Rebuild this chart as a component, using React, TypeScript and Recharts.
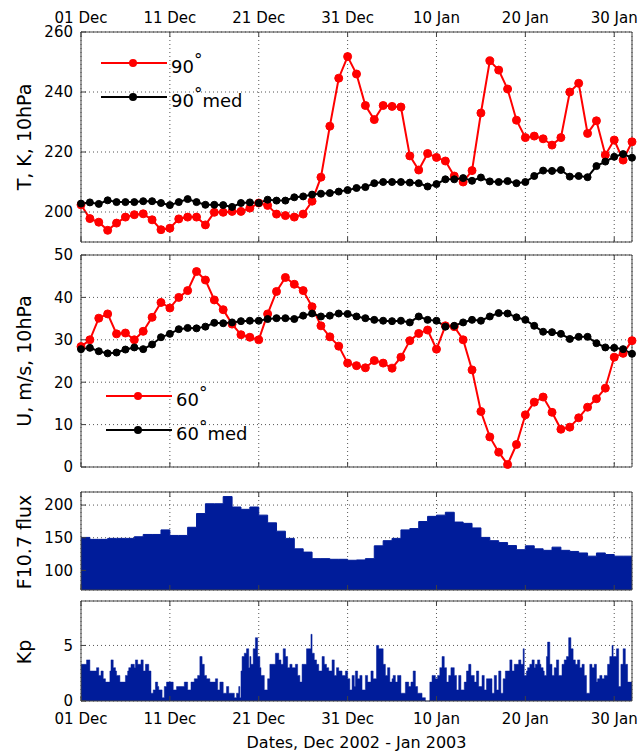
import React from "react";
import { ComposedChart, Line, Area, XAxis, YAxis, CartesianGrid, Legend } from "recharts";

// x axis: days since 01 Dec 2002
const dateTicks = [0, 10, 20, 30, 40, 50, 60];
const dateLabels = ["01 Dec", "11 Dec", "21 Dec", "31 Dec", "10 Jan", "20 Jan", "30 Jan"];
const dayDomain = [0, 62];

// T at 10 hPa, 90N and its median (daily)
const t90 = [
  202.4, 197.8, 196.6, 193.9, 196.3, 198.3, 199.1, 199.4, 197.4, 194.1,
  194.6, 197.7, 198.3, 198.3, 195.7, 199.9, 199.9, 200.2, 200.2, 201.3,
  203, 202.2, 199.3, 198.8, 198.3, 199.3, 203.6, 211.6, 228.6, 244.6,
  251.8, 246, 235.5, 230.8, 235.5, 235.2, 235, 218.7, 214, 219.5,
  218.2, 217, 212, 210, 213.8, 233, 250.4, 247.3, 241, 230.6,
  224.8, 225.3, 224.4, 222.3, 224.8, 240, 242.9, 226.2, 230.4, 219,
  224, 217.3, 223.4,
];
const t90med = [
  202.8, 203.2, 202.7, 203.9, 203.3, 203.3, 203.3, 203.6, 203.6, 203,
  202.3, 203.3, 204.3, 203.3, 202.4, 202.4, 202.3, 201.7, 203, 203.2,
  203, 204.1, 203.8, 203.8, 204.9, 205.2, 205.8, 206.1, 206.3, 206.8,
  207.3, 208, 208.3, 209.6, 210, 210, 210, 209.8, 209.6, 208.5,
  209.3, 210.9, 210.9, 211.3, 210.4, 211.5, 210.2, 210, 210.3, 209.6,
  210, 212, 213.8, 213.7, 214, 211.8, 212, 211.6, 215.3, 216.8,
  218.4, 219.3, 218.1,
];

// zonal wind at 10 hPa, 60N and its median (daily)
const u60 = [
  28.4, 30, 35.1, 36.1, 31.4, 31.6, 30, 32, 35.3, 38.8,
  37.5, 40, 41.6, 46.1, 44.1, 39.4, 37.1, 33.7, 31.2, 30.6,
  30, 36.1, 41.4, 44.7, 43.1, 41.6, 37.8, 33.3, 30.7, 28.5,
  24.5, 23.9, 23.4, 25.1, 24.5, 23.3, 25.9, 29.8, 31.5, 32.3,
  27.8, 33.3, 33.1, 30, 22.9, 13.1, 7.1, 3.5, 0.6, 5.3,
  12.3, 15.3, 16.5, 12.9, 8.9, 9.4, 11.6, 14.1, 16.1, 18.6,
  25.9, 26.8, 29.8,
];
const u60med = [
  27.8, 28.1, 27.3, 26.8, 27, 27.7, 28.2, 27.8, 28.9, 30.6,
  31.4, 32.5, 32.8, 32.7, 33.1, 34, 33.9, 34.1, 34.4, 34.5,
  34.5, 34.9, 35.1, 35.1, 34.9, 35.7, 36.2, 35.5, 35.7, 36.2,
  36.1, 35.5, 35.1, 34.7, 34.5, 34.4, 34.5, 34.1, 35.5, 34.7,
  34.5, 33.1, 33.3, 34.1, 34.7, 34.5, 35.5, 36.3, 36.2, 35.3,
  34.7, 33.3, 31.9, 31.8, 31.4, 30.2, 30.7, 30.7, 29.2, 28.2,
  28.1, 27.8, 26.7,
];

// solar F10.7 flux, one value per day
const f107 = [
  150.5, 147.5, 147.5, 149, 149, 149, 151.5, 155, 155, 162,
  153.5, 153.5, 166, 187, 202, 202, 213, 197, 193.5, 197,
  184.6, 172.8, 160, 149, 133, 128, 118, 118, 117, 117,
  115.5, 116, 118, 137.6, 145.5, 149, 162, 164, 174.8, 182.7,
  184.6, 189, 174, 172, 165, 150.5, 145.5, 142.6, 138, 131.7,
  137.6, 133, 130.7, 135.6, 130.7, 129, 126.7, 121.8, 126.7, 124.3,
  121.8, 121.8,
];

// Kp, eight 3-hour values per day
const kp = [
  3.3, 3.3, 3.3, 3.3, 3.3, 3.7, 3.7, 3.7,
  2.7, 2.7, 2.7, 2.7, 2.7, 2.7, 3, 3,
  2.3, 2.3, 2.7, 2.7, 2, 2, 1.7, 1.7,
  1.7, 1.7, 2.7, 3.7, 3.7, 3, 3, 2.7,
  2.3, 2.3, 2.3, 1.7, 1.7, 1.7, 1.7, 1.7,
  2.3, 2.3, 2.7, 3, 3, 3.3, 3.3, 3.3,
  3, 3.7, 3.7, 3.3, 3.3, 3.3, 3.7, 3.7,
  2.7, 2.7, 3.3, 3.3, 3.3, 2.7, 2.7, 0.7,
  0.7, 1, 1, 1.7, 1.7, 1.3, 1, 1,
  1, 0.3, 0.3, 1.3, 1.3, 1.7, 1.7, 1.7,
  1.7, 1.7, 1.7, 1, 1, 1, 1.3, 1.3,
  1.3, 1.3, 1.3, 1.3, 1.3, 1.7, 1.7, 1.7,
  1, 1, 1, 1.7, 1.7, 1.7, 2, 2,
  2, 2.3, 2.3, 4, 4, 3.3, 3.3, 2.3,
  2.3, 2, 2, 2, 1.7, 1.7, 1.7, 1.7,
  1.7, 2, 2, 1, 1, 1.7, 1.7, 1.7,
  0.7, 0.7, 0.7, 1.3, 1.3, 0.7, 0.7, 0.7,
  0.7, 0.7, 0.3, 0.3, 0.7, 0.7, 1.3, 0.3,
  2.7, 4, 4, 4.3, 4.3, 4.7, 4.7, 3,
  4, 3.3, 3.3, 4.7, 4.7, 5.7, 5.7, 4,
  4, 3, 2.3, 2.3, 2.3, 1, 1, 1,
  2, 2, 3.3, 3.3, 3.3, 3.3, 3.3, 4.3,
  4.3, 4.3, 3.7, 3.7, 3.3, 3.3, 4.7, 4.7,
  4, 4, 3, 3, 3.3, 3.3, 3, 3,
  3, 3.3, 3.3, 2.3, 2.3, 1.7, 1.7, 3.3,
  3.3, 3.3, 3.3, 4.7, 4.7, 4.7, 4.7, 6,
  4.3, 4.3, 3.7, 3.7, 3.3, 3.3, 2.7, 2.7,
  2.7, 4, 4, 3.3, 3.3, 3, 3, 2.7,
  2.7, 2.7, 3.7, 3.7, 2.3, 2.3, 3, 3,
  2.7, 2.7, 2.7, 2.3, 2.3, 2.3, 2.7, 2.7,
  2, 2, 1, 1, 2.3, 2.3, 1.3, 2.7,
  2.7, 2, 2, 2.3, 2.3, 1, 1, 1,
  2.3, 2.3, 1.7, 1.7, 1.7, 2.7, 2.7, 2,
  2, 2, 5, 5, 4.7, 4.7, 4.7, 4.7,
  3.3, 3.3, 2.3, 2.3, 3, 3, 1.7, 1.7,
  2, 2.3, 2.3, 1.7, 1.7, 2.3, 2.3, 2.3,
  0.7, 0.7, 0.7, 0.7, 1.7, 1.7, 1.7, 1.3,
  1.3, 1.7, 1.7, 2.7, 2.7, 1.3, 1.3, 0.7,
  0.7, 0.7, 0.7, 0.3, 0.3, 0.3, 0, 0,
  0, 0, 1.7, 1.7, 2.3, 2.3, 2.3, 2,
  2, 2.3, 2.3, 3, 3, 4, 4, 3,
  3, 1.7, 1.7, 2.3, 2.3, 3, 3, 3,
  2.3, 2.3, 1, 1, 2.3, 2.3, 1, 1,
  1, 1.7, 1.7, 2.7, 2.7, 3.3, 3.3, 2.3,
  2.3, 2.3, 1.7, 1.7, 2.7, 2.7, 1.3, 1.3,
  1.3, 2.3, 2.3, 1, 1, 2, 2, 2,
  2, 2, 0.7, 0.7, 2.3, 2.3, 1, 1,
  2.7, 2.7, 0.7, 0.7, 2, 2, 2.7, 2.7,
  2.7, 2.7, 3.7, 3.7, 2.7, 2.7, 3.3, 3.3,
  3.3, 3.3, 3.7, 3.7, 3.3, 3.3, 4.7, 2.3,
  2.3, 2.7, 3, 3, 3.3, 3.3, 3.7, 3.7,
  3, 3.3, 3.3, 3.7, 3.7, 3.3, 3, 3,
  2.7, 2.3, 2.3, 4, 5.3, 5.3, 3.3, 3.3,
  2.3, 2.3, 3, 3, 3.7, 3.7, 2.3, 2.3,
  2.3, 3.3, 3.3, 3.7, 3.7, 4, 4, 5.7,
  5.7, 4.7, 4.7, 3.7, 3.7, 3.3, 3.3, 3.7,
  3.7, 3, 3, 3.3, 3.3, 2.3, 2.3, 0.7,
  0.7, 0.7, 3.3, 3.3, 3, 3, 3.3, 3.3,
  1.7, 2, 2, 2.3, 2.3, 2, 2, 2.3,
  2.3, 2.3, 3.3, 3.3, 4, 4, 5, 4,
  4, 4, 4.7, 4.7, 1.3, 1.3, 3.3, 3.3,
  4.7, 4.7, 3.3, 3.3, 1.7, 1.7, 1.7, 1.7,
];

const tTicks = [200, 220, 240, 260];
const uTicks = [0, 10, 20, 30, 40, 50];
const fTicks = [100, 150, 200];
const kpTicks = [0, 5];

const tData = t90.map((v, i) => ({ day: i, t90: v, t90med: t90med[i] }));
const uData = u60.map((v, i) => ({ day: i, u60: v, u60med: u60med[i] }));
// step fills need a closing point at the right edge
const fData = [...f107.map((v, i) => ({ day: i, flux: v })), { day: f107.length, flux: f107[f107.length - 1] }];
const kpData = [...kp.map((v, i) => ({ day: i / 8, kp: v })), { day: kp.length / 8, kp: kp[kp.length - 1] }];

const FONT = "'DejaVu Sans', sans-serif";
const AXIS = "#404040";
const NAVY = "#001c9a";
const RED = "#ff0000";
const tickStyle = { fill: "#000", fontSize: 15, fontFamily: FONT };
const blank = () => "";
const fmtDate = (v: number) => dateLabels[dateTicks.indexOf(v)] ?? "";

function frame(yDomain: number[], yTicks: number[], topLabels: boolean, bottomLabels: boolean, title: string, titleY: number, xTitle?: string) {
  return [
    <XAxis key="xb" xAxisId="b" type="number" dataKey="day" domain={dayDomain} ticks={dateTicks} interval={0}
      orientation="bottom" height={bottomLabels ? 30 : 1} tickSize={-5} tickMargin={17}
      tickFormatter={bottomLabels ? fmtDate : blank} stroke={AXIS} tick={tickStyle}
      label={xTitle ? { value: xTitle, position: "bottom", offset: 6, fill: "#000", fontSize: 16, fontFamily: FONT } : undefined} />,
    <XAxis key="xt" xAxisId="t" type="number" dataKey="day" domain={dayDomain} ticks={dateTicks} interval={0}
      orientation="top" height={topLabels ? 25 : 1} tickSize={-5} tickMargin={14}
      tickFormatter={topLabels ? fmtDate : blank} stroke={AXIS} tick={tickStyle} />,
    <YAxis key="yl" yAxisId="l" type="number" domain={yDomain} ticks={yTicks} interval={0} width={60}
      tickSize={-5} tickMargin={13} stroke={AXIS} tick={tickStyle}
      label={{
        content: () => (
          <text x={31} y={titleY} transform={`rotate(-90 31 ${titleY})`} textAnchor="middle" fontSize={19} fontFamily={FONT} fill="#000">
            {title}
          </text>
        ),
      }} />,
    <YAxis key="yr" yAxisId="r" orientation="right" type="number" domain={yDomain} ticks={yTicks} interval={0} width={1}
      tickSize={-5} tickFormatter={blank} stroke={AXIS} tick={tickStyle} />,
    <CartesianGrid key="g" xAxisId="b" yAxisId="l" stroke="#555" strokeDasharray="1 3" />,
  ];
}

function SeriesLegend(props: any) {
  const payload = props.payload || [];
  return (
    <div style={{ fontFamily: FONT, fontSize: 18, color: "#000" }}>
      {payload.map((entry: any) => {
        const [base, rest] = String(entry.value).split("°");
        return (
          <div key={entry.value} style={{ display: "flex", alignItems: "center", height: 34 }}>
            <svg width={66} height={12}>
              <line x1={0} y1={6} x2={66} y2={6} stroke={entry.color} strokeWidth={2} />
              <circle cx={32} cy={6} r={4} fill={entry.color} />
            </svg>
            <span style={{ marginLeft: 4, paddingTop: 6, whiteSpace: "nowrap" }}>
              {base}
              <span style={{ position: "relative", top: -7, fontSize: 17 }}>°</span>
              {rest}
            </span>
          </div>
        );
      })}
    </div>
  );
}

export default function App() {
  return (
    <div style={{ position: "absolute", left: 0, top: 0, width: 644, height: 754, background: "#fff" }}>
      <div style={{ position: "absolute", left: 0, top: 0 }}>
        <ComposedChart width={644} height={250} data={tData} margin={{ top: 7, right: 11, bottom: 7, left: 21 }}>
          {frame([190, 260], tTicks, true, false, "T, K, 10hPa", 137)}
          <Line xAxisId="b" yAxisId="l" dataKey="t90" name="90°" stroke={RED} strokeWidth={2}
            dot={{ r: 4, fill: RED, stroke: RED, strokeWidth: 1 }} activeDot={false} isAnimationActive={false} />
          <Line xAxisId="b" yAxisId="l" dataKey="t90med" name="90°med" stroke="#000" strokeWidth={2}
            dot={{ r: 3.5, fill: "#000", stroke: "#000", strokeWidth: 1 }} activeDot={false} isAnimationActive={false} />
          <Legend layout="vertical" align="center" verticalAlign="middle" content={(p: any) => <SeriesLegend {...p} />}
            wrapperStyle={{ left: 101, top: 46, width: "auto", height: "auto" }} />
        </ComposedChart>
      </div>
      <div style={{ position: "absolute", left: 0, top: 244 }}>
        <ComposedChart width={644} height={231} data={uData} margin={{ top: 10, right: 11, bottom: 7, left: 21 }}>
          {frame([0, 50], uTicks, false, false, "U, m/s, 10hPa", 117)}
          <Line xAxisId="b" yAxisId="l" dataKey="u60" name="60°" stroke={RED} strokeWidth={2}
            dot={{ r: 4, fill: RED, stroke: RED, strokeWidth: 1 }} activeDot={false} isAnimationActive={false} />
          <Line xAxisId="b" yAxisId="l" dataKey="u60med" name="60°med" stroke="#000" strokeWidth={2}
            dot={{ r: 3.5, fill: "#000", stroke: "#000", strokeWidth: 1 }} activeDot={false} isAnimationActive={false} />
          <Legend layout="vertical" align="center" verticalAlign="middle" content={(p: any) => <SeriesLegend {...p} />}
            wrapperStyle={{ left: 106, top: 135, width: "auto", height: "auto" }} />
        </ComposedChart>
      </div>
      <div style={{ position: "absolute", left: 0, top: 480 }}>
        <ComposedChart width={644} height={115} data={fData} margin={{ top: 11, right: 11, bottom: 4, left: 21 }}>
          {frame([70, 220], fTicks, false, false, "F10.7 flux", 62)}
          <Area xAxisId="b" yAxisId="l" type="stepAfter" dataKey="flux" fill={NAVY} fillOpacity={1} stroke={NAVY}
            strokeWidth={1} dot={false} activeDot={false} isAnimationActive={false} />
        </ComposedChart>
      </div>
      <div style={{ position: "absolute", left: 0, top: 596 }}>
        <ComposedChart width={644} height={158} data={kpData} margin={{ top: 4, right: 11, bottom: 23, left: 21 }}>
          {frame([0, 9], kpTicks, false, true, "Kp", 56, "Dates, Dec 2002 - Jan 2003")}
          <Area xAxisId="b" yAxisId="l" type="stepAfter" dataKey="kp" fill={NAVY} fillOpacity={1} stroke={NAVY}
            strokeWidth={0.5} dot={false} activeDot={false} isAnimationActive={false} />
        </ComposedChart>
      </div>
    </div>
  );
}
